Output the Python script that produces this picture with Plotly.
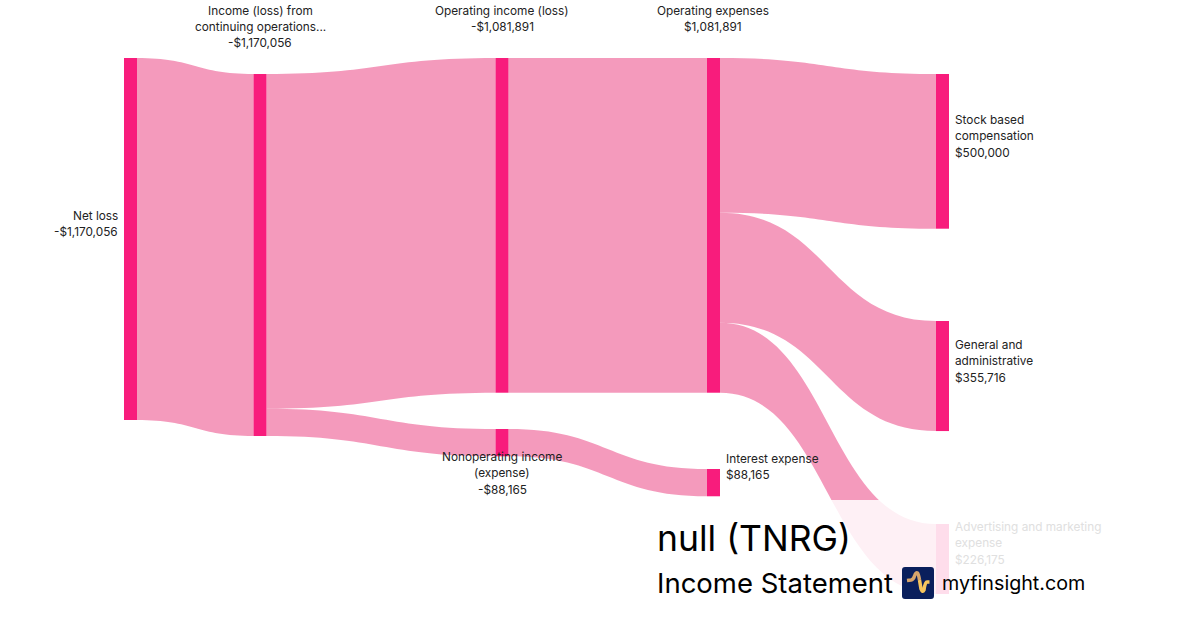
import plotly.graph_objects as go

W, H = 1200, 630
node_labels = [["Net loss"], ["Income (loss) from", "continuing operations..."], ["Operating income (loss)"],
               ["Nonoperating income", "(expense)"], ["Operating expenses"], ["Interest expense"],
               ["Stock based", "compensation"], ["General and", "administrative"],
               ["Advertising and marketing", "expense"]]
node_values = ["-$1,170,056", "-$1,170,056", "-$1,081,891", "-$88,165", "$1,081,891", "$88,165",
               "$500,000", "$355,716", "$226,175"]
link_source = [0, 1, 1, 2, 3, 4, 4, 4]
link_target = [1, 2, 3, 4, 5, 6, 7, 8]
link_value = [1170056, 1081891, 88165, 1081891, 88165, 500000, 355716, 226175]
node_total = [1170056, 1170056, 1081891, 88165, 1081891, 88165, 500000, 355716, 226175]
node_left = [124, 253.5, 495.5, 495.5, 707, 707, 936, 936, 936]
node_top = [58, 74, 58, 429, 58, 469, 74, 321, 524]

NODE_W = 13
PAD = 58
PLOT_TOP, PLOT_BOTTOM = 58, 594
PLOT_LEFT, PLOT_RIGHT = 124, 949
scale = (PLOT_BOTTOM - PLOT_TOP - 3 * PAD) / 1170056
px_h = PLOT_BOTTOM - PLOT_TOP
px_w = PLOT_RIGHT - PLOT_LEFT
node_x = [(l + NODE_W / 2 - PLOT_LEFT) / px_w for l in node_left]
node_y = [(t + v * scale / 2 - PLOT_TOP) / px_h for t, v in zip(node_top, node_total)]

fig = go.Figure(go.Sankey(
    arrangement="fixed",
    domain=dict(x=[PLOT_LEFT / W, PLOT_RIGHT / W], y=[1 - PLOT_BOTTOM / H, 1 - PLOT_TOP / H]),
    node=dict(label=[""] * len(node_total), x=node_x, y=node_y, pad=PAD, thickness=NODE_W,
              color="#F81C7C", line=dict(width=0), hoverinfo="skip"),
    link=dict(source=link_source, target=link_target, value=link_value,
              color="rgba(240,120,165,0.75)", hoverinfo="skip"),
))

def note(x, y, text, anchor="center", color="#222222", size=12):
    fig.add_annotation(x=x / W, y=1 - y / H, xref="paper", yref="paper", text=text, showarrow=False,
                       xanchor=anchor, yanchor="middle", align=anchor,
                       font=dict(family="Inter", size=size, color=color), borderpad=0, borderwidth=0)

def node_note(i, x, y, anchor="center", color="#222222"):
    for k, line in enumerate(node_labels[i] + [node_values[i]]):
        note(x, y + k * 16.4, line, anchor, color, 11.8)

# faded panel behind the title block
fig.add_shape(type="rect", xref="paper", yref="paper", x0=640 / W, x1=1, y0=0, y1=1 - 500 / H,
              fillcolor="rgba(255,255,255,0.85)", line=dict(width=0), layer="above")

node_note(0, 118, 216, "right")
node_note(1, 260, 10.5)
node_note(2, 502, 10.5)
node_note(3, 502, 457)
node_note(4, 712.5, 10.5)
node_note(5, 726, 459, "left")
node_note(6, 955, 120, "left")
node_note(7, 955, 345, "left")
node_note(8, 955, 527, "left", "#E0E0E0")

note(657, 538, "null (TNRG)", "left", "#000000", 35.5)
note(657, 583, "Income Statement", "left", "#000000", 27.5)
note(942, 583, "myfinsight.com", "left", "#000000", 19.7)

# logo: rounded square with a pulse glyph
def px(x, y):
    return f"{x / W:.5f},{1 - y / H:.5f}"
x0, x1, y0, y1, r = 902, 934, 567, 599, 3
fig.add_shape(type="path", xref="paper", yref="paper", layer="above", fillcolor="#0A1F5C", line=dict(width=0),
              path=f"M{px(x0 + r, y0)} L{px(x1 - r, y0)} Q{px(x1, y0)} {px(x1, y0 + r)} L{px(x1, y1 - r)} "
                   f"Q{px(x1, y1)} {px(x1 - r, y1)} L{px(x0 + r, y1)} Q{px(x0, y1)} {px(x0, y1 - r)} "
                   f"L{px(x0, y0 + r)} Q{px(x0, y0)} {px(x0 + r, y0)} Z")
fig.add_shape(type="path", xref="paper", yref="paper", layer="above", line=dict(color="#D8A56B", width=3.5),
              path=f"M{px(907, 580.5)} L{px(911, 580)} Q{px(913.5, 579.5)} {px(914.5, 576)} Q{px(916, 572)} {px(917.5, 573)} "
                   f"Q{px(918.5, 574)} {px(919.5, 580)}")
fig.add_shape(type="path", xref="paper", yref="paper", layer="above", line=dict(color="#F6C55E", width=3.5),
              path=f"M{px(919.5, 580)} L{px(921, 589)} Q{px(922.5, 593)} {px(924, 590)} Q{px(925, 582)} {px(927, 582)} L{px(929.5, 582)}")

fig.update_layout(width=W, height=H, margin=dict(l=0, r=0, t=0, b=0), paper_bgcolor="white",
                  font=dict(family="Inter"))
fig.write_html("out.html", config=dict(displayModeBar=False), post_script="document.body.style.margin='0';")
